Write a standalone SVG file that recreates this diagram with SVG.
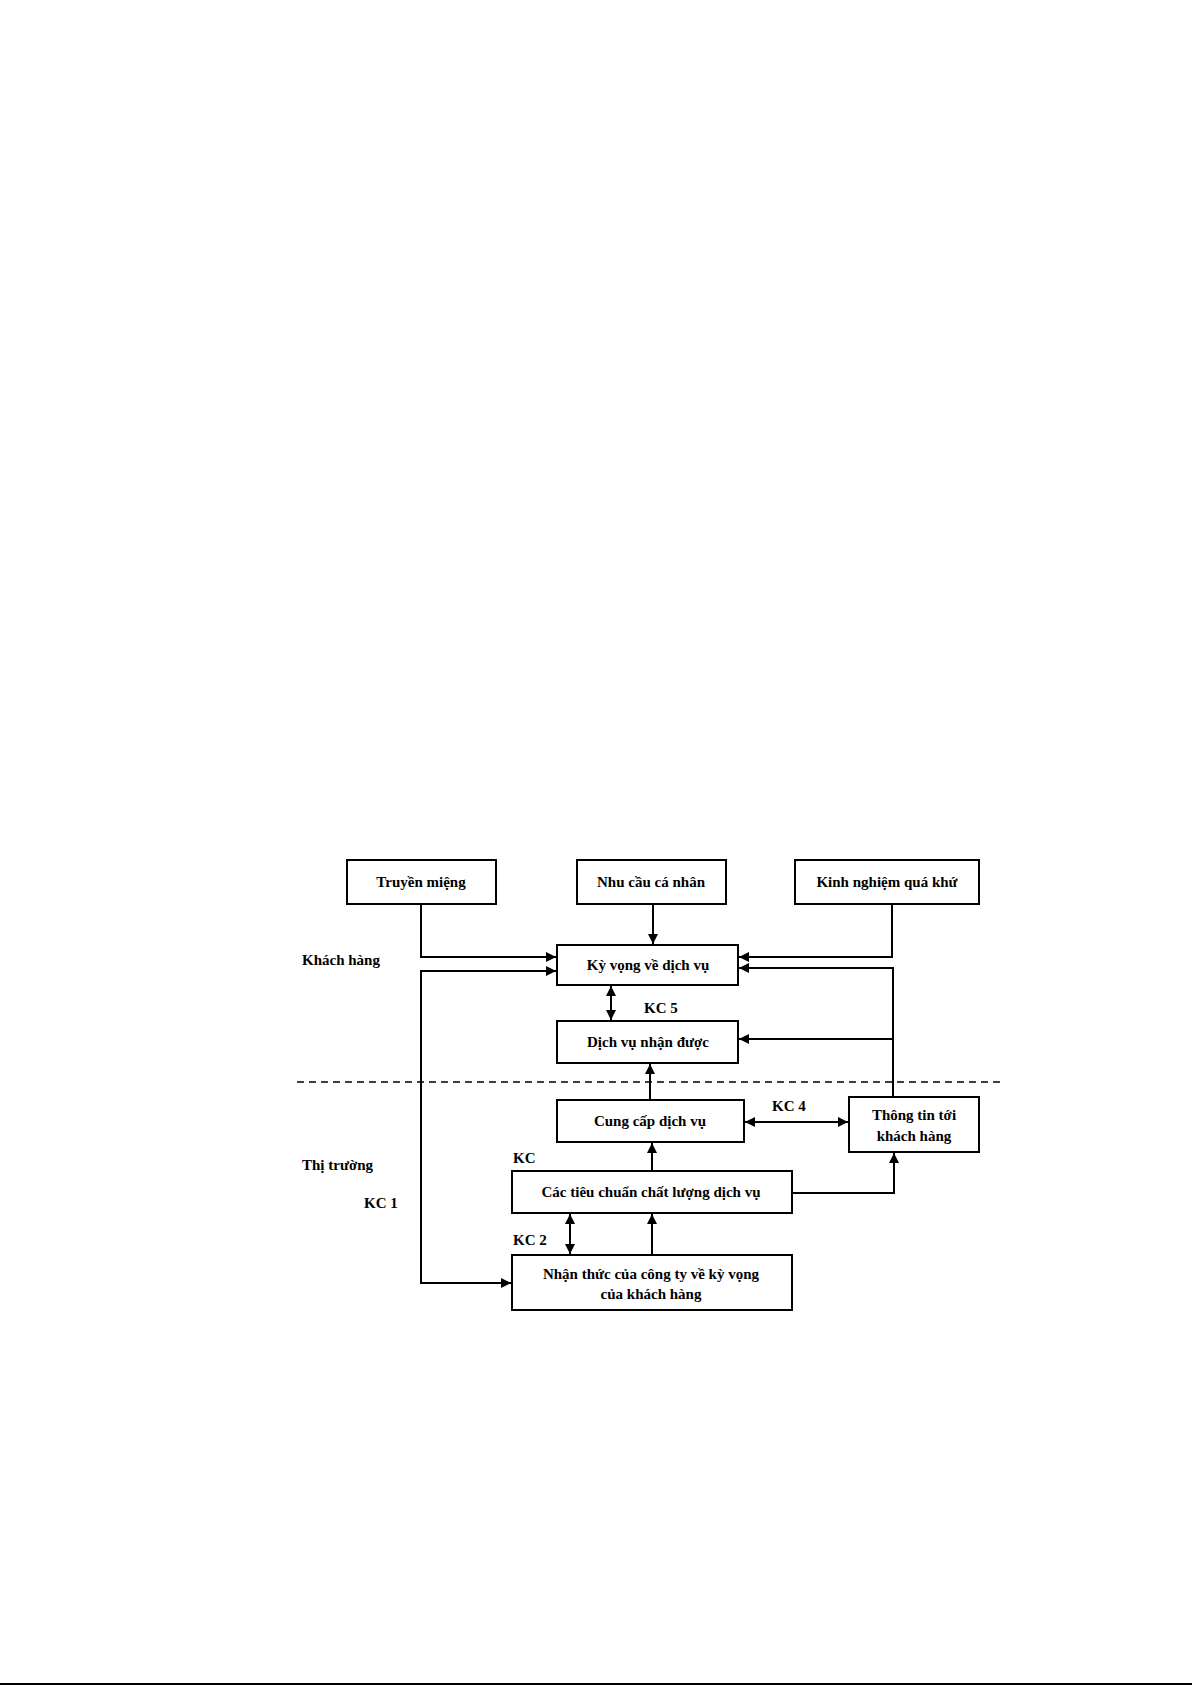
<svg xmlns="http://www.w3.org/2000/svg" width="1192" height="1685" viewBox="0 0 1192 1685">
<style>
.box{fill:#fff;stroke:#000;stroke-width:2}
.t{font-family:"Liberation Serif","Times New Roman",serif;font-size:15px;font-weight:bold;fill:#000;text-anchor:middle}
.l{font-family:"Liberation Serif","Times New Roman",serif;font-size:15px;font-weight:bold;fill:#000}
.c{fill:none;stroke:#000;stroke-width:2}
.d{fill:none;stroke:#000;stroke-width:1.5;stroke-dasharray:7,5}
</style>
<defs>
<marker id="ah" viewBox="0 0 10 10" refX="10" refY="5" markerWidth="10" markerHeight="10" markerUnits="userSpaceOnUse" orient="auto-start-reverse">
<path d="M0,0 L10,5 L0,10 Z" fill="#000"/>
</marker>
</defs>
<rect width="1192" height="1685" fill="#fff"/>
<line x1="0" y1="1684" x2="1192" y2="1684" stroke="#000" stroke-width="2"/>
<line class="d" x1="297" y1="1082" x2="1000" y2="1082"/>
<g id="n-truyen"><rect class="box" x="347" y="860" width="149" height="44"/><text class="t" x="421" y="887">Truyền miệng</text></g>
<g id="n-nhucau"><rect class="box" x="577" y="860" width="149" height="44"/><text class="t" x="651" y="887">Nhu cầu cá nhân</text></g>
<g id="n-kinhnghiem"><rect class="box" x="795" y="860" width="184" height="44"/><text class="t" x="887" y="887">Kinh nghiệm quá khứ</text></g>
<g id="n-kyvong"><rect class="box" x="557" y="945" width="181" height="40"/><text class="t" x="648" y="970">Kỳ vọng về dịch vụ</text></g>
<g id="n-dichvu"><rect class="box" x="557" y="1021" width="181" height="42"/><text class="t" x="648" y="1047">Dịch vụ nhận được</text></g>
<g id="n-cungcap"><rect class="box" x="557" y="1100" width="187" height="42"/><text class="t" x="650" y="1126">Cung cấp dịch vụ</text></g>
<g id="n-thongtin"><rect class="box" x="849" y="1097" width="130" height="55"/><text class="t" x="914" y="1120">Thông tin tới</text><text class="t" x="914" y="1141">khách hàng</text></g>
<g id="n-tieuchuan"><rect class="box" x="512" y="1171" width="280" height="42"/><text class="t" x="651" y="1197">Các tiêu chuẩn chất lượng dịch vụ</text></g>
<g id="n-nhanthuc"><rect class="box" x="512" y="1255" width="280" height="55"/><text class="t" x="651" y="1279">Nhận thức của công ty về kỳ vọng</text><text class="t" x="651" y="1299">của khách hàng</text></g>
<g id="labels">
<text class="l" x="302" y="965">Khách hàng</text>
<text class="l" x="302" y="1170">Thị trường</text>
<text class="l" x="364" y="1208">KC 1</text>
<text class="l" x="644" y="1013">KC 5</text>
<text class="l" x="772" y="1111">KC 4</text>
<text class="l" x="513" y="1163">KC</text>
<text class="l" x="513" y="1245">KC 2</text>
</g>
<g id="connectors">
<polyline class="c" points="421,904 421,957 556,957" marker-end="url(#ah)"/>
<polyline class="c" points="556,971 421,971 421,1283 511,1283" marker-start="url(#ah)" marker-end="url(#ah)"/>
<line class="c" x1="653" y1="904" x2="653" y2="944" marker-end="url(#ah)"/>
<polyline class="c" points="892,904 892,957 739,957" marker-end="url(#ah)"/>
<polyline class="c" points="739,968 893,968 893,1097" marker-start="url(#ah)"/>
<line class="c" x1="893" y1="1039" x2="739" y2="1039" marker-end="url(#ah)"/>
<line class="c" x1="611" y1="986" x2="611" y2="1020" marker-start="url(#ah)" marker-end="url(#ah)"/>
<line class="c" x1="650" y1="1100" x2="650" y2="1064" marker-end="url(#ah)"/>
<line class="c" x1="652" y1="1171" x2="652" y2="1143" marker-end="url(#ah)"/>
<line class="c" x1="652" y1="1255" x2="652" y2="1214" marker-end="url(#ah)"/>
<line class="c" x1="570" y1="1214" x2="570" y2="1254" marker-start="url(#ah)" marker-end="url(#ah)"/>
<line class="c" x1="745" y1="1122" x2="848" y2="1122" stroke-width="1.5" marker-start="url(#ah)" marker-end="url(#ah)"/>
<polyline class="c" points="792,1193 894,1193 894,1153" marker-end="url(#ah)"/>
</g>
</svg>
